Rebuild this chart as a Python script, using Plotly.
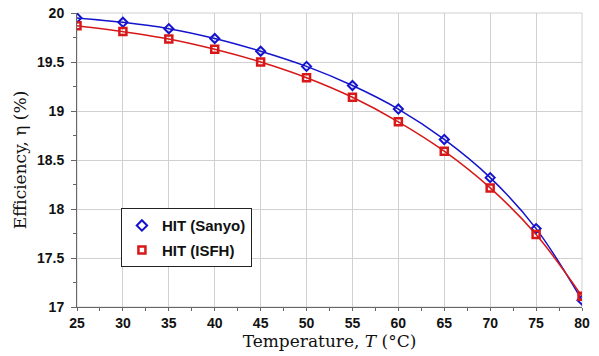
import plotly.graph_objects as go

temps = [25, 30, 35, 40, 45, 50, 55, 60, 65, 70, 75, 80]
sanyo = [19.95, 19.905, 19.84, 19.74, 19.61, 19.455, 19.26, 19.02, 18.71, 18.32, 17.80, 17.07]
isfh = [19.87, 19.81, 19.735, 19.63, 19.50, 19.34, 19.14, 18.89, 18.59, 18.215, 17.74, 17.11]
xticks = [25, 30, 35, 40, 45, 50, 55, 60, 65, 70, 75, 80]
yticks = [17, 17.5, 18, 18.5, 19, 19.5, 20]
ylabels = ["17", "17.5", "18", "18.5", "19", "19.5", "20"]

BLUE = "#1414CC"
RED = "#D81818"
SANS = "Arial"
SERIF = "DejaVu Serif"

fig = go.Figure()
fig.add_trace(go.Scatter(
    x=temps, y=sanyo, name="HIT (Sanyo)", mode="lines+markers", showlegend=False,
    line=dict(color=BLUE, width=1.5, shape="spline"),
    marker=dict(symbol="diamond-open", size=7, color=BLUE, line=dict(width=2)),
))
fig.add_trace(go.Scatter(
    x=temps, y=isfh, name="HIT (ISFH)", mode="lines+markers", showlegend=False,
    line=dict(color=RED, width=1.5, shape="spline"),
    marker=dict(symbol="square-open", size=7, color=RED, line=dict(width=2.5)),
))
fig.add_trace(go.Scatter(
    x=[None], y=[None], name="HIT (Sanyo)", mode="markers", legendgroup="a",
    marker=dict(symbol="diamond-open", size=8, color=BLUE, line=dict(width=2)),
))
fig.add_trace(go.Scatter(
    x=[None], y=[None], name="HIT (ISFH)", mode="markers", legendgroup="b",
    marker=dict(symbol="square-open", size=7, color=RED, line=dict(width=2.5)),
))

fig.update_layout(
    width=599, height=356,
    margin=dict(l=77, r=17, t=13, b=49),
    paper_bgcolor="white", plot_bgcolor="white",
    font=dict(family=SANS, color="#111111"),
    legend=dict(
        x=0.087, y=0.336, xanchor="left", yanchor="top",
        bordercolor="#222222", borderwidth=1, bgcolor="white",
        font=dict(family=SANS, size=15, weight=700, color="#111111"),
        tracegroupgap=2, itemwidth=30,
    ),
    showlegend=True,
)
fig.update_xaxes(
    range=[25, 80], tickvals=xticks, ticktext=[str(v) for v in xticks],
    automargin=False,
    showgrid=True, gridcolor="#D0D0D0", gridwidth=1,
    showline=True, linecolor="#666666", linewidth=1,
    ticks="outside", ticklen=3, tickcolor="#666666", ticklabelstandoff=0,
    tickfont=dict(family=SANS, size=14, weight=700, color="#111111"),
    minor=dict(ticks="outside", ticklen=3, tickcolor="#666666", dtick=2.5, showgrid=False),
    title=dict(text="Temperature, <i>T</i> (°C)", font=dict(family=SERIF, size=17), standoff=2),
    zeroline=False,
)
fig.update_yaxes(
    range=[17, 20], tickvals=yticks, ticktext=ylabels,
    automargin=False,
    showgrid=True, gridcolor="#D0D0D0", gridwidth=1,
    showline=True, linecolor="#666666", linewidth=1,
    ticks="outside", ticklen=5, tickcolor="#666666", ticklabelstandoff=4,
    tickfont=dict(family=SANS, size=14, weight=700, color="#111111"),
    minor=dict(ticks="outside", ticklen=3, tickcolor="#666666", dtick=0.25, showgrid=False),
    title=dict(text="Efficiency, η (%)", font=dict(family=SERIF, size=17), standoff=6),
    zeroline=False,
)
fig.add_shape(type="rect", xref="paper", yref="paper", x0=0, y0=0, x1=1, y1=1,
              line=dict(color="#D0D0D0", width=1), layer="below")

fig.write_html("out.html")
